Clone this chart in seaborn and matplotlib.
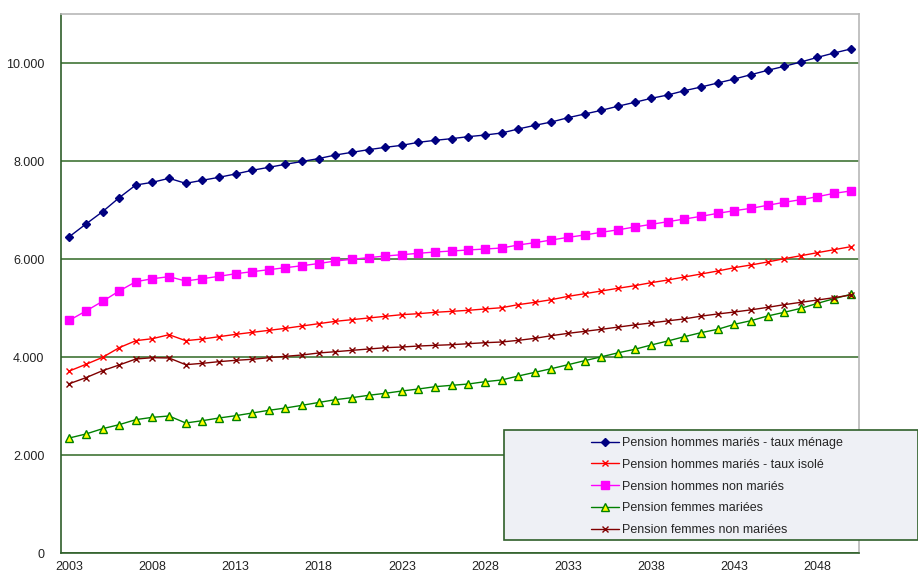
import numpy as np
import pandas as pd
import matplotlib
matplotlib.use("Agg")
import matplotlib.pyplot as plt
import matplotlib.ticker as mticker
from matplotlib.patches import Rectangle
import seaborn as sns

years = list(range(2003, 2051))

hommes_menage = [6455, 6714, 6966, 7251, 7510, 7565, 7647, 7544, 7606, 7667,
                 7735, 7810, 7871, 7933, 7990, 8050, 8122, 8177, 8231, 8279,
                 8320, 8381, 8422, 8456, 8497, 8530, 8571, 8653, 8728, 8796,
                 8884, 8959, 9034, 9118, 9197, 9279, 9347, 9435, 9510, 9592,
                 9673, 9762, 9850, 9932, 10020, 10115, 10204, 10286]

hommes_isole = [3714, 3850, 3993, 4190, 4333, 4374, 4455, 4333, 4367, 4414,
                4462, 4503, 4544, 4585, 4633, 4680, 4728, 4762, 4796, 4830,
                4864, 4884, 4912, 4932, 4953, 4980, 5006, 5068, 5116, 5170,
                5238, 5292, 5347, 5402, 5455, 5517, 5571, 5633, 5694, 5755,
                5823, 5878, 5939, 6006, 6067, 6129, 6190, 6251]

hommes_non_maries = [4748, 4939, 5136, 5347, 5537, 5598, 5639, 5551, 5598, 5646,
                     5700, 5741, 5782, 5823, 5863, 5908, 5959, 5994, 6027, 6061,
                     6088, 6116, 6143, 6163, 6184, 6204, 6224, 6286, 6333, 6388,
                     6442, 6490, 6545, 6595, 6653, 6707, 6762, 6816, 6871, 6932,
                     6986, 7034, 7096, 7157, 7211, 7272, 7340, 7388]

femmes_mariees = [2347, 2429, 2537, 2619, 2721, 2769, 2796, 2653, 2700, 2755,
                  2802, 2857, 2912, 2959, 3014, 3072, 3129, 3170, 3218, 3259,
                  3306, 3347, 3394, 3422, 3449, 3496, 3531, 3612, 3687, 3762,
                  3843, 3925, 4004, 4085, 4156, 4245, 4327, 4415, 4497, 4565,
                  4667, 4741, 4837, 4912, 4993, 5095, 5190, 5279]

femmes_non_mariees = [3455, 3578, 3721, 3837, 3959, 3986, 3980, 3843, 3871, 3905,
                      3932, 3953, 3986, 4014, 4041, 4082, 4108, 4136, 4163, 4190,
                      4204, 4224, 4238, 4251, 4272, 4292, 4306, 4340, 4381, 4435,
                      4483, 4524, 4565, 4610, 4655, 4695, 4738, 4778, 4834, 4878,
                      4918, 4962, 5013, 5068, 5116, 5163, 5211, 5265]

labels = ["Pension hommes mariés - taux ménage",
          "Pension hommes mariés - taux isolé",
          "Pension hommes non mariés",
          "Pension femmes mariées",
          "Pension femmes non mariées"]

series = [hommes_menage, hommes_isole, hommes_non_maries,
          femmes_mariees, femmes_non_mariees]

# line colour, marker, marker face, marker edge, marker size
styles = [
    ("#000080", "D", "#000080", "#000080", 4.5),
    ("#ff0000", "x", "#ff0000", "#ff0000", 4.5),
    ("#ff00ff", "s", "#ff00ff", "#ff00ff", 5.5),
    ("#008000", "^", "#ffff00", "#008000", 6),
    ("#800000", "x", "#800000", "#800000", 4.5),
]

sns.set_style("white")
plt.rcParams["font.family"] = ["Liberation Sans", "DejaVu Sans"]

fig = plt.figure(figsize=(9.18, 5.75), dpi=100)
ax = fig.add_axes([61 / 918, 1 - 553 / 575, (859 - 61) / 918, (553 - 14) / 575])

for lab, vals, (c, m, fc, ec, ms) in zip(labels, series, styles):
    df = pd.DataFrame({"year": years, "value": vals})
    sns.lineplot(data=df, x="year", y="value", ax=ax, color=c, lw=1,
                 marker=m, markersize=ms, markerfacecolor=fc,
                 markeredgecolor=ec, markeredgewidth=1, label=lab)

ax.set_xlim(years[0] - 0.5, years[-1] + 0.5)
ax.set_ylim(0, 11000)
ax.set_xlabel("")
ax.set_ylabel("")

ax.set_yticks([0, 2000, 4000, 6000, 8000, 10000])
ax.yaxis.set_major_formatter(mticker.FuncFormatter(lambda v, p: f"{int(v):,}".replace(",", ".")))
ax.yaxis.grid(True, color="#4f7f45", lw=1.3)
ax.set_axisbelow(True)

ax.set_xticks(years[::5])
ax.set_xticks(np.arange(years[0] - 0.5, years[-1] + 1), minor=True)
ax.tick_params(axis="x", which="major", length=0, pad=6, labelsize=9, colors="#222222")
ax.tick_params(axis="x", which="minor", length=4, width=1, color="#1f4f1f", direction="out")
ax.tick_params(axis="y", which="major", length=0, pad=12, labelsize=9, colors="#222222")

for side in ["left", "bottom"]:
    ax.spines[side].set_color("#2f5f2a")
    ax.spines[side].set_linewidth(1.2)
for side in ["top", "right"]:
    ax.spines[side].set_color("#b8b8b8")
    ax.spines[side].set_linewidth(1.2)

# legend box (extends to the right edge of the picture)
handles, labs = ax.get_legend_handles_labels()
ax.get_legend().remove()
box = Rectangle((504 / 918, 1 - 540 / 575), 1 - 504 / 918, 110 / 575,
                transform=fig.transFigure, facecolor="#eef0f5",
                edgecolor="#2f5f2a", lw=1.2, zorder=5)
fig.patches.append(box)
leg = fig.legend(handles, labs, loc="upper left",
                 bbox_to_anchor=(591 / 918, 1 - 437 / 575),
                 frameon=False, fontsize=9,
                 handlelength=2.2, handletextpad=0.3, labelspacing=0.78,
                 borderaxespad=0, borderpad=0)
leg.set_zorder(6)

fig.savefig("out.png", dpi=100)
